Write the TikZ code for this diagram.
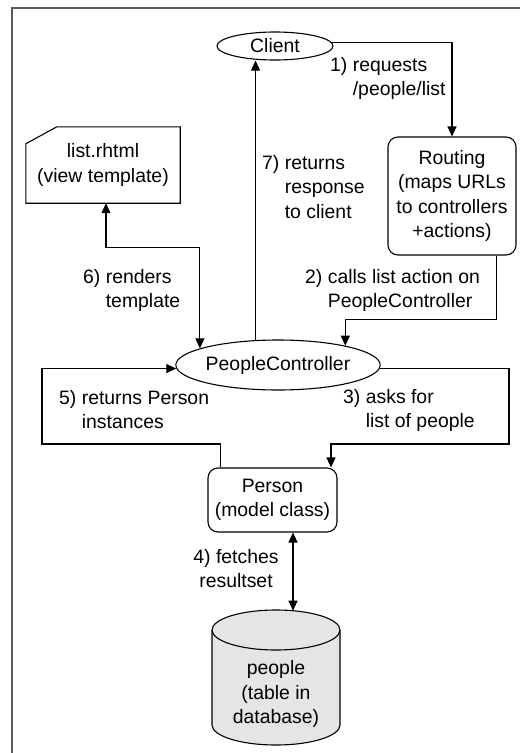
\documentclass[tikz,border=0pt]{standalone}
\usepackage{fontspec}
\setmainfont{Liberation Sans}
\usetikzlibrary{arrows.meta,calc,shapes.geometric}
\begin{document}
\begin{tikzpicture}[x=1pt,y=-1pt,
  every node/.style={font=\fontsize{19.4}{24.5}\selectfont, inner sep=0pt},
  shp/.style={draw, line width=1.1pt},
  conn/.style={line width=1.1pt, -{Triangle[length=10pt,width=9pt]}},
  conn2/.style={line width=1.1pt, {Triangle[length=10pt,width=9pt]}-{Triangle[length=10pt,width=9pt]}},
  lbl/.style={anchor=base west},
  frame/.style={line width=1.6pt, black!65}]
\useasboundingbox (0,0) rectangle (522,753);
\draw[frame] (12,753) -- (12,8) -- (520,8);

% nodes
\node[shp, ellipse, minimum width=116pt, minimum height=28pt] (client) at (275,46) {Client};
\node[shp, rounded corners=10pt, minimum width=128pt, minimum height=118pt, align=center] (routing) at (452,196) {Routing\\(maps URLs\\to controllers\\+actions)};
\node[minimum width=154pt, minimum height=76pt, align=center] (list) at (103,165) {list.rhtml\\(view template)};
\draw[shp] ($(list.north west)+(0,17)$) -- ($(list.north west)+(31,0)$) -- (list.north east) -- (list.south east) -- (list.south west) -- cycle;
\node[shp, ellipse, minimum width=195pt, minimum height=50pt] (pc) at (278,365) {PeopleController};
\node[shp, rounded corners=10pt, minimum width=129pt, minimum height=64pt, align=center] (person) at (272.5,500) {Person\\(model class)};

% database cylinder
\filldraw[line width=1.1pt, fill=black!10] (212,630) -- (212,725) arc[start angle=180,end angle=0,x radius=64,y radius=20] -- (340,630);
\filldraw[line width=1.1pt, fill=black!10] (276,630) ellipse[x radius=64, y radius=20];
\node[align=center] (db) at (276,694) {people\\(table in\\database)};
\coordinate (dbtop) at (293,610.7);

% connectors
\draw[conn] (client.4) -| (routing.north);
\draw[conn] ($(routing.south east)+(-20,0)$) |- ($(pc.16)+(0,-26)$) -- (pc.16);
\draw[conn2] ($(list.south)+(3,0)$) |- ($(pc.168)+(0,-101)$) -- (pc.168);
\draw[conn] (pc.132) -- (pc.132 |- client.south);
\coordinate (c3) at (509,444);
\draw[conn] (pc.-2) -| (c3) -| ($(person.north)+(58.5,0)$);
\coordinate (c5) at (42,444);
\draw[conn] ($(person.north west)+(13,0)$) |- (c5) |- (pc.182);
\draw[conn2] ($(person.south)+(20.5,0)$) -- (dbtop);

% labels
\node[lbl] (l1) at (330,71) {\begin{tabular}[t]{@{}l@{\ }l@{}}1) & requests\\ & /people/list\end{tabular}};
\node[lbl] (l7) at (262,169) {\begin{tabular}[t]{@{}l@{\ }l@{}}7) & returns\\ & response\\ & to client\end{tabular}};
\node[lbl] (l6) at (83,283) {\begin{tabular}[t]{@{}l@{\ }l@{}}6) & renders\\ & template\end{tabular}};
\node[lbl] (l2) at (305,283) {\begin{tabular}[t]{@{}l@{\ }l@{}}2) & calls list action on\\ & PeopleController\end{tabular}};
\node[lbl] (l5) at (59,404) {\begin{tabular}[t]{@{}l@{\ }l@{}}5) & returns Person\\ & instances\end{tabular}};
\node[lbl] (l3) at (343,403) {\begin{tabular}[t]{@{}l@{\ }l@{}}3) & asks for\\ & list of people\end{tabular}};
\node[anchor=base] (l4) at (236,563) {\begin{tabular}[t]{@{}c@{}}4) fetches\\resultset\end{tabular}};
\end{tikzpicture}
\end{document}
